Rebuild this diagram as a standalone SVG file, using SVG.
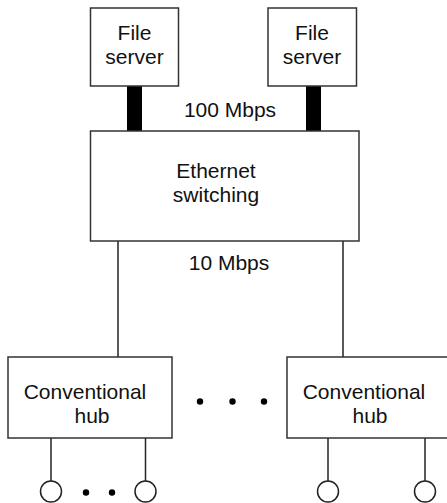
<svg xmlns="http://www.w3.org/2000/svg" width="447" height="503" viewBox="0 0 447 503">
<style>
.box{fill:#fff;stroke:#333;stroke-width:1.5}
.ln{stroke:#222;stroke-width:1.5;fill:none}
.bar{fill:#000}
.t{font-family:"Liberation Sans",Arial,sans-serif;font-size:21px;fill:#111;text-anchor:middle}
.dot{fill:#000}
.term{fill:#fff;stroke:#222;stroke-width:1.5}
</style>
<rect width="447" height="503" fill="#fff"/>
<g id="connectors">
<rect class="bar" x="127" y="86" width="15" height="45"/>
<rect class="bar" x="306" y="86" width="15" height="45"/>
<line class="ln" x1="118" y1="241" x2="118" y2="357"/>
<line class="ln" x1="343" y1="241" x2="343" y2="357"/>
<line class="ln" x1="51" y1="438" x2="51" y2="481"/>
<line class="ln" x1="145.5" y1="438" x2="145.5" y2="481"/>
<line class="ln" x1="328" y1="438" x2="328" y2="481"/>
<line class="ln" x1="425" y1="438" x2="425" y2="481"/>
<text class="t" x="230" y="117">100 Mbps</text>
<text class="t" x="229" y="270">10 Mbps</text>
</g>
<g id="fileserver1">
<rect class="box" x="90.5" y="8" width="88" height="78"/>
<text class="t" x="134.5" y="40">File</text>
<text class="t" x="134.5" y="64">server</text>
</g>
<g id="fileserver2">
<rect class="box" x="268" y="8" width="88.5" height="78"/>
<text class="t" x="312" y="40">File</text>
<text class="t" x="312" y="64">server</text>
</g>
<g id="switch">
<rect class="box" x="90.5" y="131" width="268.5" height="110"/>
<text class="t" x="216" y="178">Ethernet</text>
<text class="t" x="216" y="202">switching</text>
</g>
<g id="hub1">
<rect class="box" x="8" y="357" width="164" height="81"/>
<text class="t" x="85" y="399">Conventional</text>
<text class="t" x="92" y="423">hub</text>
</g>
<g id="hub2">
<rect class="box" x="287" y="357" width="165" height="81"/>
<text class="t" x="364" y="399">Conventional</text>
<text class="t" x="370" y="423">hub</text>
</g>
<g id="ellipsis">
<circle class="dot" cx="200" cy="401.5" r="3.2"/>
<circle class="dot" cx="232.5" cy="401.5" r="3.2"/>
<circle class="dot" cx="264" cy="401.5" r="3.2"/>
<circle class="dot" cx="86" cy="492.5" r="3.2"/>
<circle class="dot" cx="112" cy="492.5" r="3.2"/>
</g>
<g id="terminals">
<circle class="term" cx="51" cy="491.5" r="10.5"/>
<circle class="term" cx="145.5" cy="491.5" r="10.5"/>
<circle class="term" cx="328" cy="491.5" r="10.5"/>
<circle class="term" cx="425" cy="491.5" r="10.5"/>
</g>
</svg>
